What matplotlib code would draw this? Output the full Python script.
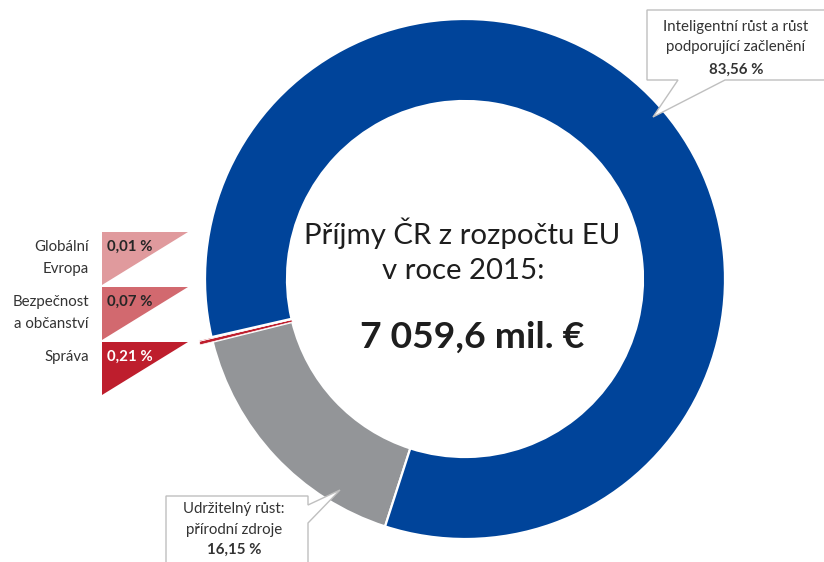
import matplotlib
matplotlib.use("Agg")
import matplotlib.pyplot as plt
from matplotlib.patches import Polygon

plt.rcParams['font.family'] = ['Lato', 'DejaVu Sans']

# ---- data ----
categories = ["Udržitelný růst:\npřírodní zdroje", "Správa", "Bezpečnost\na občanství",
              "Globální\nEvropa", "Inteligentní růst a růst\npodporující začlenění"]
shares = [16.15, 0.21, 0.07, 0.01, 83.56]
share_labels = ["16,15 %", "0,21 %", "0,07 %", "0,01 %", "83,56 %"]
colors = ["#939598", "#BE1E2D", "#D2696F", "#E09A9D", "#00449A"]
title_lines = ["Příjmy ČR z rozpočtu EU", "v roce 2015:"]
total_label = "7 059,6 mil. €"

W, H = 824, 562
fig = plt.figure(figsize=(W / 100, H / 100), dpi=100)
ax = fig.add_axes([0, 0, 1, 1])

def Y(y):
    return H - y

cx, cy, R, ring = 465, Y(279), 260, 82
wedges, _ = ax.pie(shares, colors=colors, startangle=252.1, counterclock=False,
                   radius=R, center=(cx, cy),
                   wedgeprops=dict(width=ring, edgecolor="white", linewidth=1.6))
# small red slices stick out slightly
for w in wedges[1:4]:
    w.set_radius(R + 13)
    w.set_width(ring + 13)
    w.set_linewidth(0.5)

ax.set_xlim(0, W)
ax.set_ylim(0, H)
ax.set_aspect('auto')
ax.axis('off')

# center text
txt = "#1e1e1e"
ax.text(462, Y(233), title_lines[0], ha="center", va="center", fontsize=21.2, color=txt)
ax.text(463, Y(271), title_lines[1], ha="center", va="center", fontsize=21.2, color=txt)
ax.text(472, Y(337), total_label, ha="center", va="center", fontsize=26.8, fontweight="bold", color=txt)

fs = 10.8
# callouts
edge = "#BFBFBF"
lab = "#333333"
# top right: big blue slice
ax.add_patch(Polygon([(647, Y(10)), (830, Y(10)), (830, Y(80)), (725, Y(80)),
                      (653, Y(117)), (678, Y(80)), (647, Y(80))],
                     closed=True, facecolor="white", edgecolor=edge, lw=1.0, zorder=3))
ax.text(736, Y(27), categories[4].split("\n")[0], ha="center", va="center", fontsize=fs, color=lab, zorder=4)
ax.text(736, Y(47), categories[4].split("\n")[1], ha="center", va="center", fontsize=fs, color=lab, zorder=4)
ax.text(736, Y(70), share_labels[4], ha="center", va="center", fontsize=fs, fontweight="bold", color=lab, zorder=4)

# bottom left: gray slice
ax.add_patch(Polygon([(166, Y(570)), (166, Y(496)), (308, Y(496)), (308, Y(505)),
                      (340, Y(490)), (308, Y(523)), (308, Y(570))],
                     closed=True, facecolor="white", edgecolor=edge, lw=1.0, zorder=3))
ax.text(234, Y(509), categories[0].split("\n")[0], ha="center", va="center", fontsize=fs, color=lab, zorder=4)
ax.text(234, Y(530), categories[0].split("\n")[1], ha="center", va="center", fontsize=fs, color=lab, zorder=4)
ax.text(234, Y(550), share_labels[0], ha="center", va="center", fontsize=fs, fontweight="bold", color=lab, zorder=4)

# left legend triangles for small slices
tri_tops = {3: 232, 2: 287, 1: 342}
for i in (3, 2, 1):
    t = tri_tops[i]
    ax.add_patch(Polygon([(102, Y(t)), (188, Y(t)), (102, Y(t + 53))], closed=True,
                         facecolor=colors[i], edgecolor="none"))
    tc = "white" if i == 1 else "#262626"
    ax.text(107, Y(t + 15), share_labels[i], ha="left", va="center", fontsize=fs,
            fontweight="bold", color=tc)
    lines = categories[i].split("\n")
    ax.text(89, Y(t + 15), lines[0], ha="right", va="center", fontsize=fs, color=lab)
    if len(lines) == 2:
        ax.text(89, Y(t + 37), lines[1], ha="right", va="center", fontsize=fs, color=lab)

fig.savefig("out.png", dpi=100)
